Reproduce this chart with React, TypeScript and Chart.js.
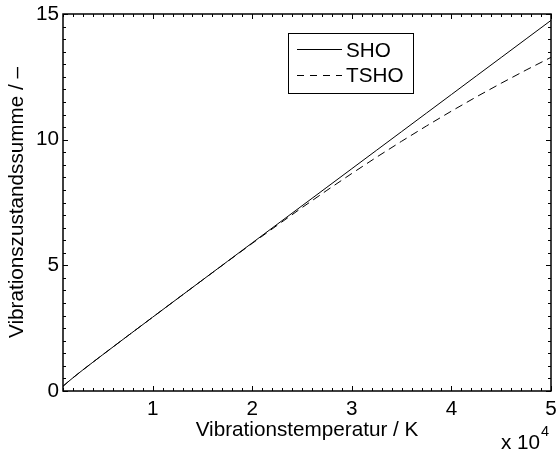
import React, { useEffect, useRef } from "react";
import { Chart, registerables } from "chart.js";

Chart.register(...registerables);

// Temperature (K)
const temps = [1000, 1500, 2000, 2500, 3000, 4000, 5000, 7500, 10000, 12500, 15000, 17500, 20000, 22500, 25000, 27500, 30000, 32500, 35000, 37500, 40000, 42500, 45000, 47500, 50000];
// Harmonic oscillator partition function
const sho = [0.190, 0.361, 0.525, 0.684, 0.840, 1.145, 1.447, 2.194, 2.936, 3.676, 4.415, 5.154, 5.893, 6.631, 7.369, 8.107, 8.845, 9.583, 10.320, 11.058, 11.796, 12.534, 13.271, 14.009, 14.746];
// Truncated harmonic oscillator partition function
const tsho = [0.190, 0.361, 0.525, 0.684, 0.840, 1.145, 1.447, 2.194, 2.936, 3.676, 4.413, 5.147, 5.874, 6.591, 7.296, 7.984, 8.655, 9.307, 9.937, 10.546, 11.135, 11.702, 12.246, 12.771, 13.275];

const xTickValues = [10000, 20000, 30000, 40000, 50000];
const yTickValues = [0, 5, 10, 15];
const seriesNames = ["SHO", "TSHO"];
const xTitle = "Vibrationstemperatur / K";
const yTitle = "Vibrationszustandssumme / –";

const FONT_FAMILY = "'Liberation Sans', Arial, Helvetica, sans-serif";
const FONT_SIZE = 20.7;

const framePlugin = {
  id: "matlabFrame",
  afterDraw(chart: any) {
    const { ctx, chartArea: a, scales } = chart;
    const xs = scales.x;
    const ys = scales.y;
    ctx.save();
    // ticks
    ctx.strokeStyle = "#000";
    ctx.lineWidth = 1;
    ctx.beginPath();
    for (let v = 1000; v <= 50000; v += 1000) {
      const px = Math.round(xs.getPixelForValue(v)) + 0.5;
      const len = v % 10000 === 0 ? 5 : 3;
      ctx.moveTo(px, a.bottom);
      ctx.lineTo(px, a.bottom - len);
      ctx.moveTo(px, a.top);
      ctx.lineTo(px, a.top + len);
    }
    for (let i = 0; i <= 30; i++) {
      const v = i * 0.5;
      const py = Math.round(ys.getPixelForValue(v)) + 0.5;
      const len = i % 10 === 0 ? 5 : 3;
      ctx.moveTo(a.left, py);
      ctx.lineTo(a.left + len, py);
      ctx.moveTo(a.right, py);
      ctx.lineTo(a.right - len, py);
    }
    ctx.stroke();
    // box
    ctx.lineWidth = 1.5;
    ctx.strokeRect(a.left, a.top, a.right - a.left, a.bottom - a.top);

    // legend
    ctx.lineWidth = 1;
    ctx.fillStyle = "#fff";
    ctx.fillRect(288.5, 33.5, 125, 60);
    ctx.strokeRect(288.5, 33.5, 125, 60);
    ctx.beginPath();
    ctx.moveTo(297, 49.5);
    ctx.lineTo(342, 49.5);
    ctx.stroke();
    ctx.setLineDash([7, 6]);
    ctx.beginPath();
    ctx.moveTo(297, 75.5);
    ctx.lineTo(342, 75.5);
    ctx.stroke();
    ctx.setLineDash([]);
    ctx.fillStyle = "#000";
    ctx.font = `${FONT_SIZE}px ${FONT_FAMILY}`;
    ctx.textBaseline = "middle";
    ctx.textAlign = "left";
    ctx.fillText(seriesNames[0], 346, 51);
    ctx.fillText(seriesNames[1], 346, 76.5);

    // exponent label
    ctx.fillText("x 10", 501, 443);
    const w = ctx.measureText("x 10").width;
    ctx.font = `${14.5}px ${FONT_FAMILY}`;
    ctx.fillText("4", 501 + w + 1, 432);
    ctx.restore();
  },
};

export default function App() {
  const ref = useRef<HTMLCanvasElement | null>(null);
  useEffect(() => {
    document.body.style.margin = "0";
    const canvas = ref.current;
    if (!canvas) return;
    const font = { family: FONT_FAMILY, size: FONT_SIZE };
    const chart = new Chart(canvas, {
      type: "line",
      data: {
        datasets: [
          {
            label: seriesNames[0],
            data: temps.map((t, i) => ({ x: t, y: sho[i] })),
            borderColor: "#000",
            borderWidth: 1,
            pointRadius: 0,
            tension: 0,
            fill: false,
          },
          {
            label: seriesNames[1],
            data: temps.map((t, i) => ({ x: t, y: tsho[i] })),
            borderColor: "#000",
            borderWidth: 1,
            borderDash: [8, 5],
            pointRadius: 0,
            tension: 0,
            fill: false,
          },
        ],
      },
      options: {
        animation: false,
        responsive: false,
        maintainAspectRatio: false,
        devicePixelRatio: 1,
        layout: { padding: { top: 14, right: 6, bottom: 0, left: 0 } },
        plugins: { legend: { display: false }, tooltip: { enabled: false } },
        scales: {
          x: {
            type: "linear",
            min: 1000,
            max: 50000,
            grid: { display: false, drawTicks: false },
            border: { display: false },
            afterBuildTicks: (s: any) => {
              s.ticks = xTickValues.map((v) => ({ value: v }));
            },
            afterFit: (s: any) => {
              s.height = 63;
              s.paddingLeft = 0;
              s.paddingRight = 0;
            },
            ticks: {
              callback: (v: any) => String(Number(v) / 10000),
              font,
              color: "#000",
              padding: 6,
              maxRotation: 0,
              autoSkip: false,
            },
            title: {
              display: true,
              text: xTitle,
              font,
              color: "#000",
              padding: { top: 0, bottom: 11.6 },
            },
          },
          y: {
            type: "linear",
            min: 0,
            max: 15,
            grid: { display: false, drawTicks: false },
            border: { display: false },
            afterBuildTicks: (s: any) => {
              s.ticks = yTickValues.map((v) => ({ value: v }));
            },
            afterFit: (s: any) => {
              s.width = 63;
              s.paddingTop = 0;
              s.paddingBottom = 0;
            },
            ticks: {
              font,
              color: "#000",
              padding: 4,
              autoSkip: false,
            },
            title: {
              display: true,
              text: yTitle,
              font,
              color: "#000",
              padding: { top: 5.2, bottom: 0 },
            },
          },
        },
      },
      plugins: [framePlugin],
    } as any);
    return () => chart.destroy();
  }, []);
  return (
    <canvas
      ref={ref}
      width={557}
      height={454}
      style={{ display: "block", width: 557, height: 454 }}
    />
  );
}
